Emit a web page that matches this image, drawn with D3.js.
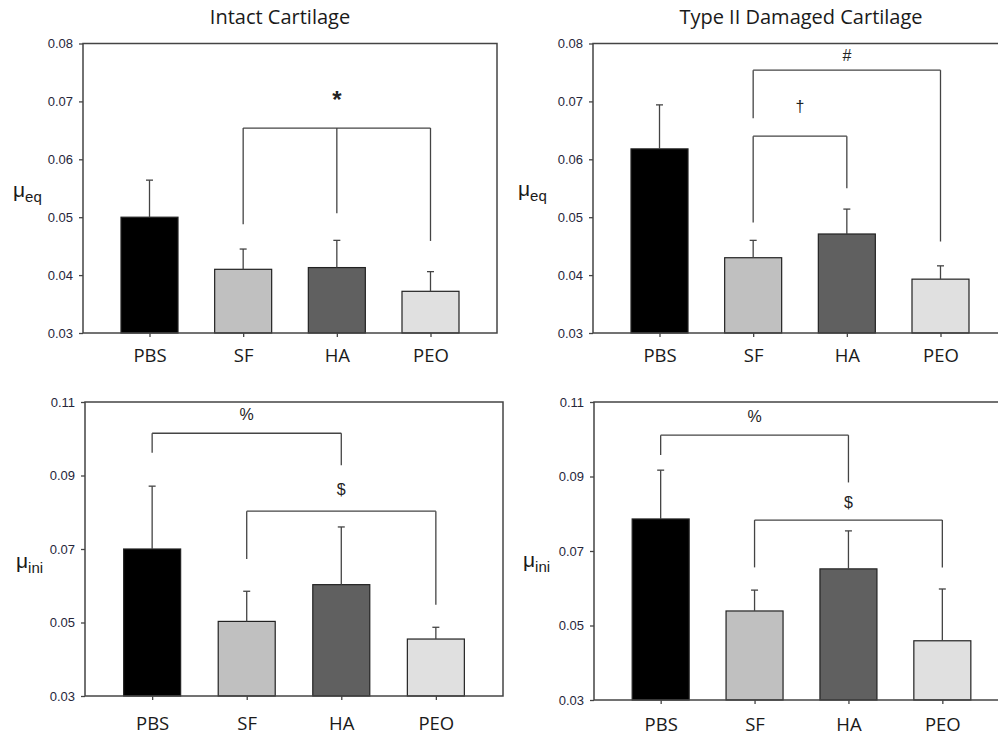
<!DOCTYPE html>
<html>
<head>
<meta charset="utf-8">
<script src="https://cdn.jsdelivr.net/npm/d3@7"></script>
<style>
  body { margin: 0; background: #fff; }
  svg { display: block; }
</style>
</head>
<body>
<div id="chart"></div>
<script>
// group names and tick values
const categories = ['PBS', 'SF', 'HA', 'PEO'];
const yTicksEq = [0.03, 0.04, 0.05, 0.06, 0.07, 0.08];
const yTicksIni = [0.03, 0.05, 0.07, 0.09, 0.11];

// means and (upper) error bars
const intactEqMean = [0.0500, 0.0410, 0.0413, 0.0372];
const intactEqSD = [0.0064, 0.0035, 0.0047, 0.0034];
const damagedEqMean = [0.0618, 0.0430, 0.0471, 0.0393];
const damagedEqSD = [0.0076, 0.0030, 0.0043, 0.0023];
const intactIniMean = [0.0700, 0.0503, 0.0603, 0.0455];
const intactIniSD = [0.0171, 0.0082, 0.0157, 0.0032];
const damagedIniMean = [0.0786, 0.0539, 0.0652, 0.0459];
const damagedIniSD = [0.0131, 0.0056, 0.0102, 0.0139];

// significance brackets (values in data units)
const intactEqBrackets = [
  {groups: ['SF', 'HA', 'PEO'], top: 0.0654, ends: [0.0488, 0.0507, 0.0459], mark: '*', markAt: 0.0688}
];
const damagedEqBrackets = [
  {groups: ['SF', 'PEO'], top: 0.0754, ends: [0.0671, 0.0458], mark: '#', markAt: 0.0769},
  {groups: ['SF', 'HA'], top: 0.0640, ends: [0.0491, 0.0550], mark: '\u2020', markAt: 0.0681}
];
const intactIniBrackets = [
  {groups: ['PBS', 'HA'], top: 0.1015, ends: [0.0962, 0.0928], mark: '%', markAt: 0.1051},
  {groups: ['SF', 'PEO'], top: 0.0803, ends: [0.0673, 0.0548], mark: '$', markAt: 0.0846}
];
const damagedIniBrackets = [
  {groups: ['PBS', 'HA'], top: 0.1011, ends: [0.0958, 0.0884], mark: '%', markAt: 0.1046},
  {groups: ['SF', 'PEO'], top: 0.0783, ends: [0.0656, 0.0656], mark: '$', markAt: 0.0815}
];

const barColors = ['#000000', '#c0c0c0', '#606060', '#e0e0e0'];

const svg = d3.select('#chart').append('svg')
    .attr('width', 998)
    .attr('height', 738);

svg.append('rect')
    .attr('width', 998)
    .attr('height', 738)
    .attr('fill', '#fff');

class BarPanel {
    constructor(_config, _data) {
      this.config = {
        left: _config.left,
        right: _config.right,
        top: _config.top,
        bottom: _config.bottom,
        title: _config.title || '',
        titleX: _config.titleX,
        yLabel: _config.yLabel,
        yLabelX: _config.yLabelX,
        yLabelY: _config.yLabelY,
        labelPad: _config.labelPad || 12
      }
      this.data = _data;
      this.initVis();
    }

    initVis() {
        let vis = this;
        let c = vis.config;

        vis.g = svg.append('g');

        vis.xScale = d3.scalePoint()
            .domain(categories)
            .range([c.left, c.right])
            .padding(0.71);

        vis.yScale = d3.scaleLinear()
            .domain(d3.extent(vis.data.ticks))
            .range([c.bottom, c.top]);

        vis.updateVis();
    }

    updateVis() {
        let vis = this;
        let c = vis.config;
        const barWidth = 57;
        const lineColor = '#444';

        // title
        if (c.title) {
            vis.g.append('text')
                .attr('x', c.titleX)
                .attr('y', 24)
                .attr('text-anchor', 'middle')
                .style('font-family', '"Segoe UI", "Open Sans", sans-serif')
                .style('font-size', '20px')
                .attr('fill', '#1a1a1a')
                .text(c.title);
        }

        // y label with subscript
        let yl = vis.g.append('text')
            .attr('x', c.yLabelX)
            .attr('y', c.yLabelY)
            .style('font-family', '"Liberation Sans", Arial, sans-serif')
            .attr('fill', '#1a1a1a');
        yl.append('tspan').style('font-size', '21px').text('\u03bc');
        yl.append('tspan').style('font-size', '15px').attr('dy', 5).text(c.yLabel);

        // bars
        let rows = categories.map((k, i) => ({key: k, mean: vis.data.mean[i], sd: vis.data.sd[i], color: barColors[i]}));

        vis.g.selectAll('rect.bar')
            .data(rows)
            .join('rect')
            .attr('class', 'bar')
            .attr('x', d => vis.xScale(d.key) - barWidth / 2)
            .attr('y', d => vis.yScale(d.mean))
            .attr('width', barWidth)
            .attr('height', d => vis.yScale(vis.yScale.domain()[0]) - vis.yScale(d.mean))
            .attr('fill', d => d.color)
            .attr('stroke', '#222')
            .attr('stroke-width', 1.2);

        // upper error bars
        vis.g.selectAll('line.err')
            .data(rows)
            .join('line')
            .attr('class', 'err')
            .attr('x1', d => vis.xScale(d.key))
            .attr('x2', d => vis.xScale(d.key))
            .attr('y1', d => vis.yScale(d.mean))
            .attr('y2', d => vis.yScale(d.mean + d.sd))
            .attr('stroke', lineColor)
            .attr('stroke-width', 1.3);

        vis.g.selectAll('line.cap')
            .data(rows)
            .join('line')
            .attr('class', 'cap')
            .attr('x1', d => vis.xScale(d.key) - 3.5)
            .attr('x2', d => vis.xScale(d.key) + 3.5)
            .attr('y1', d => vis.yScale(d.mean + d.sd))
            .attr('y2', d => vis.yScale(d.mean + d.sd))
            .attr('stroke', lineColor)
            .attr('stroke-width', 1.3);

        // significance brackets
        vis.data.brackets.forEach(b => {
            let xs = b.groups.map(k => vis.xScale(k));
            let g = vis.g.append('g');
            g.append('line')
                .attr('x1', xs[0]).attr('x2', xs[xs.length - 1])
                .attr('y1', vis.yScale(b.top)).attr('y2', vis.yScale(b.top))
                .attr('stroke', lineColor).attr('stroke-width', 1.3);
            xs.forEach((x, i) => {
                g.append('line')
                    .attr('x1', x).attr('x2', x)
                    .attr('y1', vis.yScale(b.top)).attr('y2', vis.yScale(b.ends[i]))
                    .attr('stroke', lineColor).attr('stroke-width', 1.3);
            });
            g.append('text')
                .attr('x', (xs[0] + xs[xs.length - 1]) / 2)
                .attr('y', vis.yScale(b.markAt))
                .attr('text-anchor', 'middle')
                .style('font-family', '"Liberation Sans", Arial, sans-serif')
                .style('font-size', b.mark === '*' ? '24px' : '16px')
                .style('font-weight', b.mark === '*' ? 'bold' : 'normal')
                .attr('fill', '#222')
                .text(b.mark);
        });

        // y axis
        let yAxis = d3.axisLeft(vis.yScale)
            .tickValues(vis.data.ticks)
            .tickFormat(d3.format('.2f'))
            .tickSize(4)
            .tickPadding(6);

        vis.g.append('g')
            .attr('transform', `translate(${c.left},0)`)
            .call(yAxis)
            .call(g => g.select('.domain').remove())
            .call(g => g.selectAll('line').attr('stroke', lineColor).attr('stroke-width', 1.3))
            .call(g => g.selectAll('text')
                .attr('fill', '#26263a')
                .style('font-family', '"Liberation Sans", Arial, sans-serif')
                .style('font-size', '13px'));

        // x axis
        let xAxis = d3.axisBottom(vis.xScale)
            .tickSize(4)
            .tickPadding(c.labelPad);

        vis.g.append('g')
            .attr('transform', `translate(0,${c.bottom})`)
            .call(xAxis)
            .call(g => g.select('.domain').remove())
            .call(g => g.selectAll('line').attr('stroke', lineColor).attr('stroke-width', 1.3))
            .call(g => g.selectAll('text')
                .attr('fill', '#1a1a1a')
                .style('font-family', '"Segoe UI", "Open Sans", sans-serif')
                .style('font-size', '18.5px'));

        // frame
        vis.g.append('rect')
            .attr('x', c.left)
            .attr('y', c.top)
            .attr('width', c.right - c.left)
            .attr('height', c.bottom - c.top)
            .attr('fill', 'none')
            .attr('stroke', lineColor)
            .attr('stroke-width', 1.5);
    }
}

new BarPanel(
    {left: 83, right: 497, top: 43.5, bottom: 333, title: 'Intact Cartilage', titleX: 280,
     yLabel: 'eq', yLabelX: 13, yLabelY: 197, labelPad: 12},
    {mean: intactEqMean, sd: intactEqSD, ticks: yTicksEq, brackets: intactEqBrackets});

new BarPanel(
    {left: 593, right: 1007, top: 43.5, bottom: 333, title: 'Type II Damaged Cartilage', titleX: 801,
     yLabel: 'eq', yLabelX: 518, yLabelY: 196, labelPad: 12},
    {mean: damagedEqMean, sd: damagedEqSD, ticks: yTicksEq, brackets: damagedEqBrackets});

new BarPanel(
    {left: 85, right: 503, top: 402, bottom: 696,
     yLabel: 'ini', yLabelX: 16, yLabelY: 568, labelPad: 17},
    {mean: intactIniMean, sd: intactIniSD, ticks: yTicksIni, brackets: intactIniBrackets});

new BarPanel(
    {left: 594, right: 1009, top: 402, bottom: 700,
     yLabel: 'ini', yLabelX: 523, yLabelY: 567, labelPad: 14},
    {mean: damagedIniMean, sd: damagedIniSD, ticks: yTicksIni, brackets: damagedIniBrackets});
</script>
</body>
</html>
